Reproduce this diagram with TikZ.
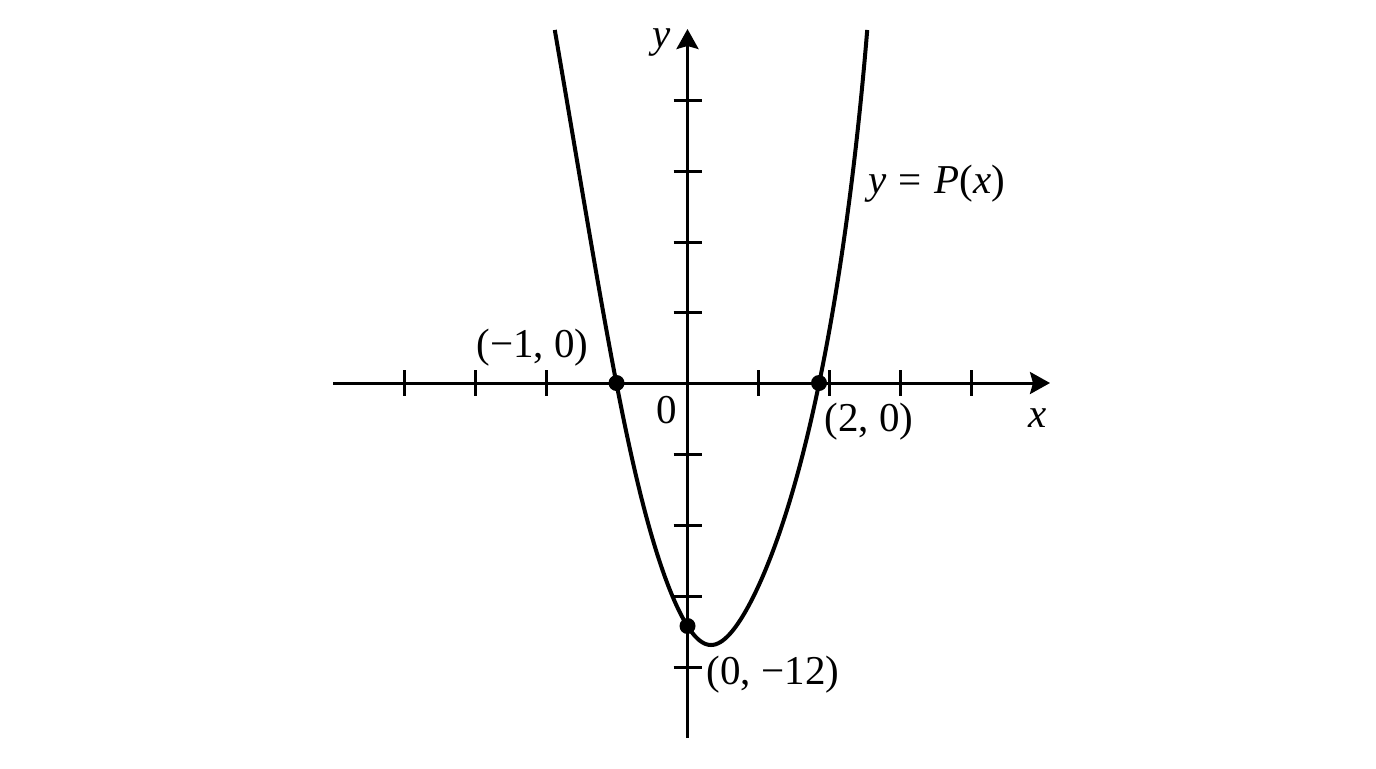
\documentclass[tikz,border=0pt]{standalone}
\usepackage{fontspec}
\setmainfont{Liberation Serif}
\usetikzlibrary{arrows.meta}
\begin{document}
\begin{tikzpicture}[x=0.5pt,y=-0.5pt,
  axis/.style={line width=1.5pt,-{Stealth[length=10pt,width=11pt,inset=1.5pt]}},
  tickmark/.style={line width=1.5pt},
  curve/.style={line width=2pt,line join=round},
  dot/.style={circle,fill=black,inner sep=0pt,minimum size=8pt},
  lab/.style={font=\fontsize{20.5}{24}\selectfont,inner sep=0pt,anchor=base}]
\useasboundingbox (0,0) rectangle (1376,768);
\coordinate (xl) at (333,383);
\coordinate (xr) at (1050,383);
\coordinate (yb) at (687.5,738);
\coordinate (yt) at (687.5,29);
\draw[axis] (xl) -- (xr);
\draw[axis] (yb) -- (yt);
\foreach \x in {404,475.5,546.5,758.5,829.5,900,971}
  \draw[tickmark] (\x,370) -- (\x,396);
\foreach \y in {100,171,242,312.5,454,525.5,596.5,667.5}
  \draw[tickmark] (673.5,\y) -- (701.5,\y);
\draw[curve] plot[variable=\s,domain=-24.8:24.8,samples=121,smooth]
  ({711+(\s)*(5.4+0.9*(1-exp(-(\s)*(\s)/81)))+0.045*(\s)*(\s)*(1-(\s)*(\s)/615.04)},
   {645-(\s)*(\s)});
\node[dot] (pA) at (616.5,383) {};
\node[dot] (pB) at (819,383) {};
\node[dot] (pC) at (687.5,626) {};
\node[lab] (ly) at (662,47) {\itshape y};
\node[lab] (lx) at (1038,427) {\itshape x};
\node[lab,anchor=base west] (lP) at (868,193) {{\itshape y}\hspace{0.3em}=\hspace{0.3em}{\itshape P}({\itshape x})};
\node[lab] (lA) at (532.5,357) {(−1, 0)};
\node[lab] (lB) at (869,431) {(2, 0)};
\node[lab] (lO) at (667,423) {0};
\node[lab] (lC) at (773,684) {(0, −12)};
\end{tikzpicture}
\end{document}
